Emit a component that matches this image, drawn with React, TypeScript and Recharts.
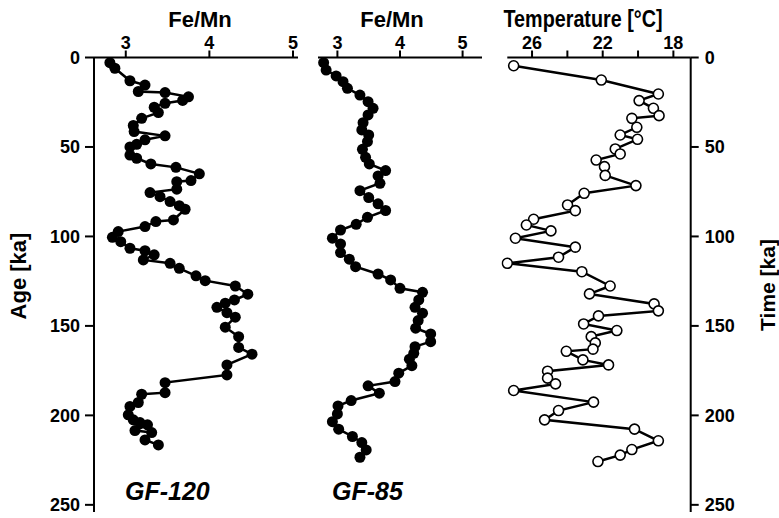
import { LineChart, Line, XAxis, YAxis } from "recharts"

// GF-120 Fe/Mn profile (age in ka)
const gf120Age = [
  2.9, 6, 13, 15.4, 19, 19.6, 22, 24, 25.6, 27.8, 30.8, 34, 38, 41.4, 43.8, 46, 48.5, 50, 54.5, 56.3,
  59.5, 61.4, 65, 68.8, 69.4, 73.6, 75.5, 77.8, 80.5, 82.8, 84.8, 90.8, 91.7, 94.5, 97.3, 100.5, 102.9,
  106.6, 108, 110.3, 113.1, 115, 117.8, 122, 124.7, 127.7, 132.3, 135.5, 137.3, 139.6, 142.6, 145.1,
  150.7, 156, 162, 165.8, 171.8, 177.4, 181.7, 187.3, 188.2, 192.8, 195, 199.7, 202.5, 204, 205.3,
  208.5, 209.6, 213.7, 216.5,
]
const gf120FeMn = [
  2.81, 2.87, 3.05, 3.23, 3.15, 3.47, 3.75, 3.68, 3.47, 3.34, 3.39, 3.19, 3.09, 3.1, 3.47, 3.23, 3.13, 3.05, 3.05, 3.13,
  3.3, 3.6, 3.88, 3.78, 3.61, 3.61, 3.29, 3.41, 3.53, 3.64, 3.71, 3.57, 3.36, 3.23, 2.91, 2.84, 2.94,
  3.05, 3.23, 3.34, 3.21, 3.53, 3.64, 3.84, 3.95, 4.31, 4.46, 4.3, 4.19, 4.09, 4.21, 4.31,
  4.19, 4.35, 4.35, 4.51, 4.21, 4.21, 3.47, 3.47, 3.19, 3.15, 3.05, 3.03, 3.09, 3.17, 3.26,
  3.11, 3.31, 3.23, 3.39,
]

// GF-85 Fe/Mn profile
const gf85Age = [
  2.9, 7, 10.3, 13.5, 17.2, 21, 24.7, 28.4, 32.1, 36.4, 40.5, 43.3, 47, 51.3, 55.8, 59.5, 63.2, 66.2, 70.3, 74.4,
  78.3, 81.8, 85.5, 89.3, 93.2, 96.4, 101, 104.2, 109, 112.7, 116.9, 121, 124.3, 129, 131.2, 135.5, 139.6,
  142.9, 147, 151.3, 154.5, 158.8, 161.6, 165.3, 168.6, 172.2, 176.4, 181.1, 183.5, 187.6, 191.7, 194.7,
  199.2, 203.5, 207.7, 211.8, 215.2, 219.3, 223.4,
]
const gf85FeMn = [
  2.78, 2.82, 2.98, 3.09, 3.16, 3.36, 3.49, 3.57, 3.49, 3.41, 3.39, 3.5, 3.48, 3.4, 3.45, 3.51, 3.77, 3.65, 3.68, 3.36,
  3.5, 3.65, 3.77, 3.48, 3.3, 3.05, 2.92, 3.05, 3.05, 3.19, 3.29, 3.65, 3.85, 4.0, 4.36, 4.3, 4.24,
  4.36, 4.29, 4.25, 4.49, 4.49, 4.24, 4.22, 4.15, 4.19, 3.98, 3.92, 3.49, 3.67, 3.22, 3.01,
  3.0, 2.92, 3.02, 3.24, 3.39, 3.46, 3.36,
]

// Temperature record (time in ka)
const tempAge = [
  4.6, 12.6, 20.4, 24.1, 28.4, 32.5, 34, 39, 43.3, 45.7, 51.1, 53.9, 57.3, 61, 65.9, 71.6, 75.9, 82.4, 85.6,
  90.4, 93.6, 96.9, 101, 106, 111.6, 115, 119.7, 127.7, 132.1, 137.7, 141.6, 144.4, 148.9, 152.6, 156,
  159.5, 163, 164.2, 169, 171.8, 175.3, 179.2, 182.4, 186.1, 192.6, 197.3, 202.5, 207.7, 214.2, 219.1,
  222.2, 225.8,
]
const tempC = [
  27.04, 22.08, 18.85, 19.94, 19.13, 18.81, 20.35, 20.07, 21.01, 20.03, 21.29, 21.01, 22.37, 21.9, 21.86, 20.12, 23.05, 23.99, 23.55,
  25.91, 26.32, 24.93, 26.94, 23.55, 24.5, 27.4, 23.18, 21.58, 22.75, 19.09, 18.85, 22.24, 23.08, 21.2, 22.65,
  22.42, 22.55, 24.06, 23.12, 21.67, 25.12, 25.12, 24.67, 27.04, 22.52, 24.5, 25.29, 20.2, 18.85, 20.35,
  21.01, 22.27,
]

const feMnTicks = [3, 4, 5]
const tempTicks = [18, 20, 22, 24, 26]
const ageTicks = [0, 50, 100, 150, 200, 250]

const W = 779
const H = 518
const font = "'Liberation Sans', Arial, sans-serif"
const tick = { fontFamily: font, fontWeight: 700, fontSize: 18, fill: "#000" }
const axisLine = { stroke: "#000", strokeWidth: 2 }

const gf120 = gf120Age.map((age, i) => ({ age, v: gf120FeMn[i] }))
const gf85 = gf85Age.map((age, i) => ({ age, v: gf85FeMn[i] }))
const temp = tempAge.map((age, i) => ({ age, v: tempC[i] }))

const layer = { position: "absolute" as const, left: 0, top: 0 }

export default function App() {
  return (
    <div style={{ position: "absolute", left: 0, top: 0, width: W, height: H, background: "#fff" }}>
      {/* GF-120 */}
      <div style={layer}>
        <LineChart width={W} height={H} layout="vertical" data={gf120}
          margin={{ top: 27.5, right: 481, bottom: 6, left: 34 }}>
          <XAxis type="number" orientation="top" domain={[2.62, 5.06]} ticks={feMnTicks} interval={0}
            allowDataOverflow height={30} tick={tick} tickSize={7} tickMargin={2}
            axisLine={axisLine} tickLine={axisLine} />
          <YAxis type="number" dataKey="age" domain={[0, 254]} ticks={ageTicks} interval={0}
            allowDataOverflow width={60} tick={tick} tickSize={9} tickMargin={5}
            axisLine={axisLine} tickLine={axisLine} />
          <Line dataKey="v" stroke="#000" strokeWidth={2.5} isAnimationActive={false}
            dot={{ r: 5.5, fill: "#000", stroke: "#000", strokeWidth: 0, clipDot: false }} />
        </LineChart>
      </div>

      {/* GF-85 */}
      <div style={layer}>
        <LineChart width={W} height={H} layout="vertical" data={gf85}
          margin={{ top: 27.5, right: 297, bottom: 6, left: 318 }}>
          <XAxis type="number" orientation="top" domain={[2.69, 5.31]} ticks={feMnTicks} interval={0}
            allowDataOverflow height={30} tick={tick} tickSize={7} tickMargin={2}
            axisLine={axisLine} tickLine={axisLine} />
          <YAxis type="number" dataKey="age" domain={[0, 254]} hide />
          <Line dataKey="v" stroke="#000" strokeWidth={2.5} isAnimationActive={false}
            dot={{ r: 5.5, fill: "#000", stroke: "#000", strokeWidth: 0, clipDot: false }} />
        </LineChart>
      </div>

      {/* Temperature */}
      <div style={layer}>
        <LineChart width={W} height={H} layout="vertical" data={temp}
          margin={{ top: 27.5, right: 38.3, bottom: 6, left: 507.3 }}>
          <XAxis type="number" orientation="top" domain={[17.02, 27.4]} reversed ticks={tempTicks} interval={0}
            allowDataOverflow height={30} tick={tick} tickSize={7} tickMargin={2}
            tickFormatter={(t: number) => (t === 20 || t === 24 ? "" : String(t))}
            axisLine={axisLine} tickLine={axisLine} />
          <YAxis type="number" dataKey="age" orientation="right" domain={[0, 254]} ticks={ageTicks} interval={0}
            allowDataOverflow width={50} tick={tick} tickSize={8} tickMargin={6}
            axisLine={axisLine} tickLine={axisLine} />
          <Line dataKey="v" stroke="#000" strokeWidth={2.5} isAnimationActive={false}
            dot={{ r: 5, fill: "#fff", stroke: "#000", strokeWidth: 1.6, clipDot: false }} />
        </LineChart>
      </div>

      {/* titles */}
      <svg width={W} height={H} style={{ ...layer, pointerEvents: "none" }}>
        <g fontFamily={font} fontWeight={700} fill="#000">
          <text x={200} y={27} fontSize={22} textAnchor="middle">Fe/Mn</text>
          <text x={392} y={27} fontSize={22} textAnchor="middle">Fe/Mn</text>
          <text x={583} y={27} fontSize={23} textAnchor="middle" textLength={159}
            lengthAdjust="spacingAndGlyphs">Temperature [°C]</text>
          <text transform="translate(26,276) rotate(-90)" fontSize={22} textAnchor="middle">Age [ka]</text>
          <text transform="translate(775,285) rotate(-90)" fontSize={21} textAnchor="middle">Time [ka]</text>
          <text x={125} y={500} fontSize={25} fontStyle="italic">GF-120</text>
          <text x={332} y={500} fontSize={25} fontStyle="italic">GF-85</text>
        </g>
      </svg>
    </div>
  )
}
